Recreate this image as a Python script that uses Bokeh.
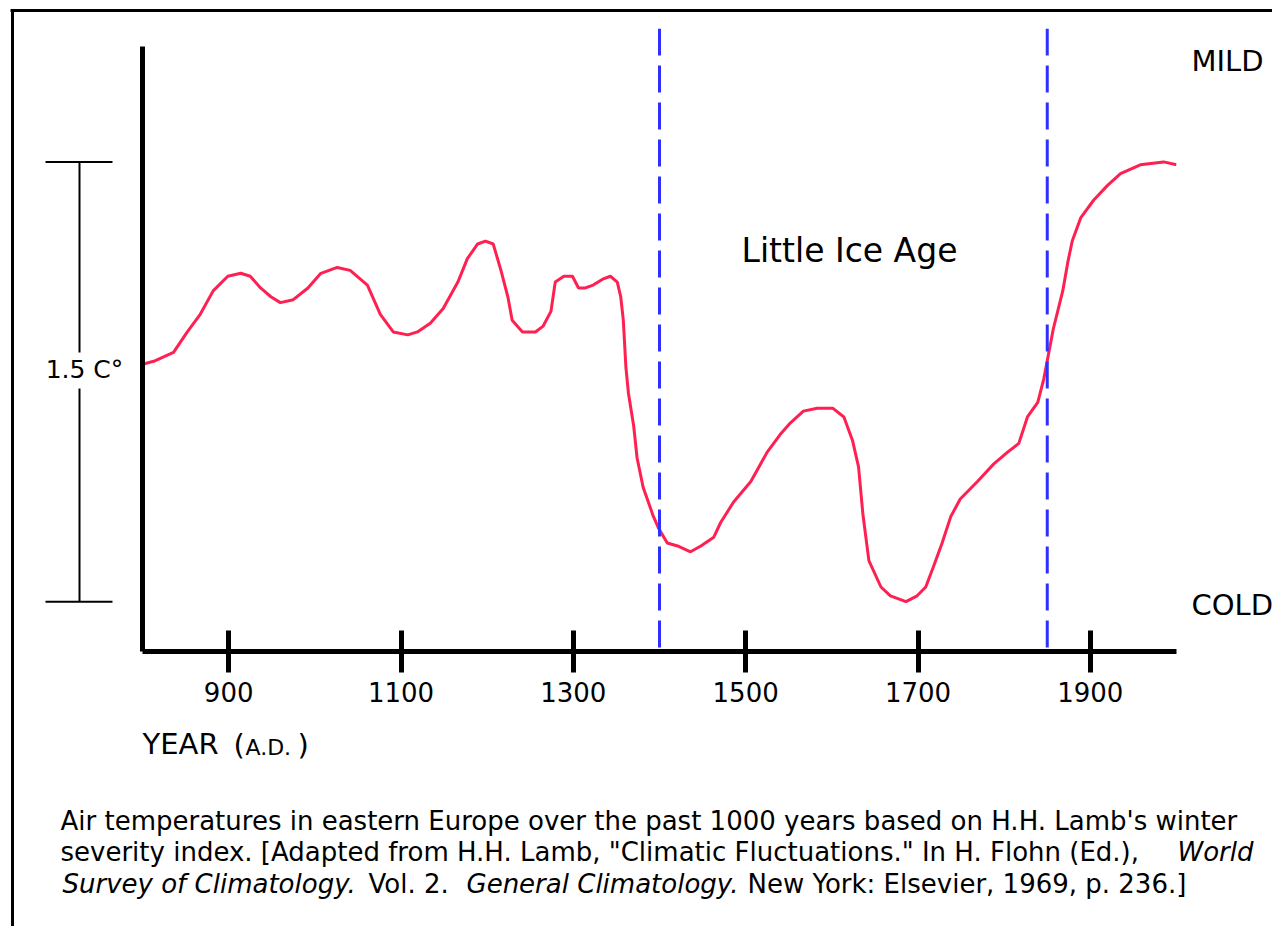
from bokeh.plotting import figure
from bokeh.models import Range1d, FixedTicker
from bokeh.core.properties import value
from bokeh.embed import file_html
from bokeh.resources import INLINE

# ---------------- data ----------------
years = [800, 813, 836, 852, 867, 882, 899, 914, 925, 937,
         949, 960, 975, 992, 1007, 1026, 1041, 1061, 1076, 1091,
         1108, 1119, 1134, 1149, 1166, 1177, 1189, 1198, 1207, 1216,
         1224, 1229, 1241, 1256, 1265, 1274, 1279, 1289, 1299, 1306,
         1314, 1323, 1334, 1343, 1351, 1355, 1358, 1361, 1364, 1370,
         1374, 1381, 1393, 1399, 1409, 1421, 1436, 1448, 1463, 1471,
         1486, 1506, 1525, 1540, 1552, 1567, 1583, 1601, 1614, 1624,
         1631, 1636, 1643, 1657, 1668, 1686, 1699, 1709, 1718, 1728,
         1738, 1749, 1769, 1788, 1804, 1817, 1827, 1839, 1846, 1857,
         1868, 1874, 1879, 1889, 1904, 1920, 1935, 1958, 1985, 2000]
# winter temperature relative to the coldest level (deg C)
temps = [0.81, 0.82, 0.85, 0.92, 0.98, 1.06, 1.11, 1.12, 1.11, 1.07,
         1.04, 1.02, 1.03, 1.07, 1.12, 1.14, 1.13, 1.08, 0.98, 0.92,
         0.91, 0.92, 0.95, 1.00, 1.09, 1.17, 1.22, 1.23, 1.22, 1.13,
         1.04, 0.96, 0.92, 0.92, 0.94, 0.99, 1.09, 1.11, 1.11, 1.07,
         1.07, 1.08, 1.10, 1.11, 1.09, 1.04, 0.96, 0.80, 0.71, 0.60,
         0.49, 0.39, 0.29, 0.25, 0.20, 0.19, 0.17, 0.19, 0.22, 0.27,
         0.34, 0.41, 0.51, 0.57, 0.61, 0.65, 0.66, 0.66, 0.63, 0.55,
         0.46, 0.30, 0.14, 0.05, 0.02, 0.00, 0.02, 0.05, 0.12, 0.20,
         0.29, 0.35, 0.41, 0.47, 0.51, 0.54, 0.63, 0.68, 0.76, 0.93,
         1.06, 1.16, 1.23, 1.31, 1.37, 1.42, 1.46, 1.49, 1.50, 1.49]

tick_years = [900, 1100, 1300, 1500, 1700, 1900]
ice_age_bounds = [1400, 1850]
scale_low, scale_high = 0.0, 1.5
scale_text = "1.5 C\u00b0"
period_text = "Little Ice Age"
mild_text, cold_text = "MILD", "COLD"

caption_1 = "Air temperatures in eastern Europe over the past 1000 years based on H.H. Lamb's winter"
caption_2 = 'severity index.  [Adapted from H.H. Lamb, "Climatic Fluctuations." In H. Flohn (Ed.),'
caption_2_it = "World"
caption_3 = [("Survey of Climatology.", "italic"), ("Vol. 2.", "normal"),
             ("General Climatology.", "italic"), ("New York:  Elsevier, 1969, p. 236.]", "normal")]

# ---------------- layout ----------------
FONT = "DejaVu Sans"
W, H = 1272, 926
FL, FR, FT, FB = 142, 1176, 28, 651          # plot frame inside figure (px)
X0, X1 = 800, 2000
Y0, Y1 = -0.17, 1.955


def X(px):  # figure x pixel -> data x
    return X0 + (px - FL) * (X1 - X0) / (FR - FL)


def Y(py):  # figure y pixel -> data y
    return Y1 - (py - FT) * (Y1 - Y0) / (FB - FT)


p = figure(width=W, height=H, x_range=Range1d(X0, X1), y_range=Range1d(Y0, Y1),
           output_backend="svg", toolbar_location=None,
           min_border_left=FL, min_border_right=W - FR,
           min_border_top=FT, min_border_bottom=H - FB)
p.grid.visible = False
p.outline_line_color = None
p.background_fill_color = "white"
p.border_fill_color = "white"

xa = p.xaxis[0]
xa.ticker = FixedTicker(ticks=tick_years, minor_ticks=[])
xa.axis_line_width = 5
xa.axis_line_color = "black"
xa.major_tick_in = 21
xa.major_tick_out = 21
xa.major_tick_line_width = 5
xa.major_tick_line_color = "black"
xa.minor_tick_line_color = None
xa.major_label_text_font = FONT
xa.major_label_text_font_size = "26px"
xa.major_label_text_color = "black"
xa.major_label_standoff = 9

ya = p.yaxis[0]
ya.ticker = FixedTicker(ticks=[], minor_ticks=[])
ya.axis_line_width = 5
ya.axis_line_color = "black"
ya.major_tick_line_color = None
ya.minor_tick_line_color = None
ya.major_label_text_color = None
ya.bounds = (Y0, Y(46))

# curve
p.line(years, temps, line_color="#ff2052", line_width=3)

# Little Ice Age boundaries
p.segment(x0=ice_age_bounds, y0=[Y1] * 2, x1=ice_age_bounds, y1=[Y0] * 2,
          line_color="#2f2fff", line_width=3, line_dash="27 10")

# scale bar (outside the frame)
bx = X(79)
p.segment(x0=[bx, bx, X(45), X(45)],
          y0=[scale_high, Y(388), scale_high, scale_low],
          x1=[bx, bx, X(112), X(112)],
          y1=[Y(352), scale_low, scale_high, scale_low],
          line_color="black", line_width=2, level="overlay")

# page frame lines (top and left)
p.segment(x0=[X(10), X(12)], y0=[Y(10), Y(9)], x1=[X(1290), X(12)], y1=[Y(10), Y(940)],
          line_color="black", line_width=3, level="overlay")


def lab(x, y, text, size, align="left", style="normal"):
    p.text(x=[x], y=[y], text=[text], text_font=value(FONT), text_font_size=value(size),
           text_align=align, text_baseline="middle", text_font_style=style,
           text_color="black", level="overlay")


lab(X(849), Y(250), period_text, "33px", "center")
lab(X(1191), Y(60), mild_text, "29px")
lab(X(1191), Y(604), cold_text, "29px")
lab(X(84), Y(369), scale_text, "25px", "center")

lab(X(142), Y(743), "YEAR", "29px")
lab(X(233), Y(744), "(", "29px")
lab(X(245), Y(747), "A.D.", "22px")
lab(X(297), Y(744), ")", "29px")

CAP = "26px"
lab(X(60), Y(820), caption_1, CAP)
lab(X(60), Y(851), caption_2, CAP)
lab(X(1177), Y(851), caption_2_it, CAP, style="italic")
for (txt, st), xs in zip(caption_3, [62, 368, 466, 747]):
    lab(X(xs), Y(883), txt, CAP, style=st)

open("out.html", "w").write(file_html(p, INLINE))
